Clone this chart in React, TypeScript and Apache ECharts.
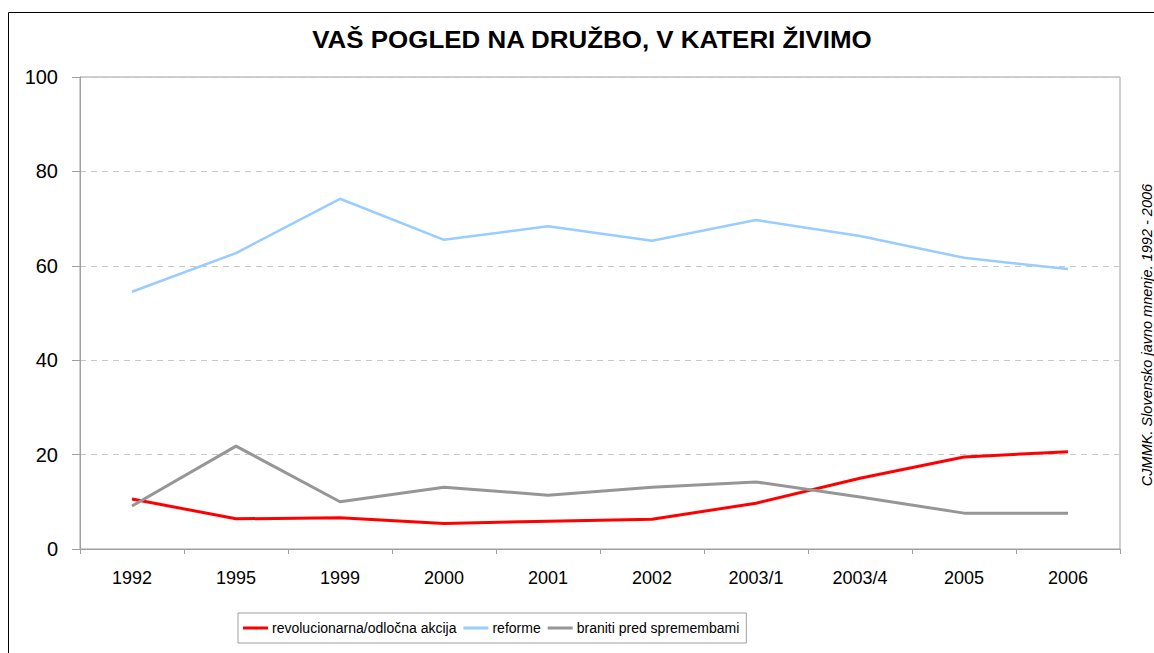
import React, { useEffect, useRef } from "react";
import * as echarts from "echarts";

const categories = ["1992", "1995", "1999", "2000", "2001", "2002", "2003/1", "2003/4", "2005", "2006"];
const revolucionarna = [10.6, 6.4, 6.6, 5.4, 5.9, 6.3, 9.7, 15.0, 19.5, 20.6];
const reforme = [54.5, 62.7, 74.2, 65.5, 68.4, 65.3, 69.7, 66.3, 61.7, 59.3];
const braniti = [9.1, 21.8, 10.0, 13.1, 11.4, 13.1, 14.2, 11.0, 7.6, 7.6];
const seriesNames = ["revolucionarna/odločna akcija", "reforme", "braniti pred spremembami"];
const titleText = "VAŠ POGLED NA DRUŽBO, V KATERI ŽIVIMO";
const sourceText = "CJMMK. Slovensko javno mnenje. 1992 - 2006";

const FONT = "'Liberation Sans', Arial, sans-serif";

export default function App() {
  const ref = useRef<HTMLDivElement>(null);
  useEffect(() => {
    const chart = echarts.init(ref.current!, null, { renderer: "svg" });
    chart.setOption({
      animation: false,
      backgroundColor: "#ffffff",
      grid: { left: 80, top: 77, right: 34, bottom: 104, show: true, borderColor: "#a0a0a0", borderWidth: 1 },
      legend: {
        left: 238,
        top: 613,
        itemWidth: 25,
        itemHeight: 3,
        itemGap: 7,
        padding: [8, 7, 8, 5],
        borderColor: "#a0a0a0",
        borderWidth: 1,
        icon: "rect",
        textStyle: { fontFamily: FONT, fontSize: 14, color: "#000", padding: [0, 0, 0, -1] },
        data: seriesNames,
      },
      xAxis: {
        type: "category",
        data: categories,
        boundaryGap: true,
        axisLine: { lineStyle: { color: "#a0a0a0", width: 1 } },
        axisTick: { show: true, length: 5, lineStyle: { color: "#a0a0a0" } },
        axisLabel: { fontFamily: FONT, fontSize: 18, color: "#000", margin: 20 },
      },
      yAxis: {
        type: "value",
        min: 0,
        max: 100,
        interval: 20,
        axisLine: { show: true, lineStyle: { color: "#a0a0a0", width: 1 } },
        axisTick: { show: true, length: 8, lineStyle: { color: "#a0a0a0" } },
        axisLabel: { fontFamily: FONT, fontSize: 20, color: "#000", margin: 22 },
        splitLine: { show: true, lineStyle: { color: "#c8c8c8", type: [6, 5], width: 1 } },
      },
      series: [
        {
          name: seriesNames[0],
          type: "line",
          data: revolucionarna,
          symbol: "none",
          color: "#ff0000",
          lineStyle: { color: "#ff0000", width: 3 },
        },
        {
          name: seriesNames[1],
          type: "line",
          data: reforme,
          symbol: "none",
          color: "#99ccff",
          lineStyle: { color: "#99ccff", width: 2.5 },
        },
        {
          name: seriesNames[2],
          type: "line",
          data: braniti,
          symbol: "none",
          color: "#969696",
          lineStyle: { color: "#969696", width: 3 },
        },
      ],
      graphic: [
        {
          type: "rect",
          shape: { x: 8.5, y: 12.5, width: 1200, height: 700 },
          style: { fill: "none", stroke: "#000", lineWidth: 1 },
          silent: true,
        },
        {
          type: "text",
          x: 592,
          y: 39,
          scaleX: 1.08,
          style: {
            text: titleText,
            fontFamily: FONT,
            fontSize: 24,
            fontWeight: "bold",
            fill: "#000",
            align: "center",
            verticalAlign: "middle",
          },
        },
        {
          type: "text",
          x: 1147,
          y: 335,
          rotation: Math.PI / 2,
          style: {
            text: sourceText,
            fontFamily: FONT,
            fontSize: 14.5,
            fontStyle: "italic",
            fill: "#000",
            align: "center",
            verticalAlign: "middle",
          },
        },
      ],
    });
    return () => chart.dispose();
  }, []);
  return <div ref={ref} style={{ position: "absolute", left: 0, top: 0, width: 1154, height: 653 }} />;
}
